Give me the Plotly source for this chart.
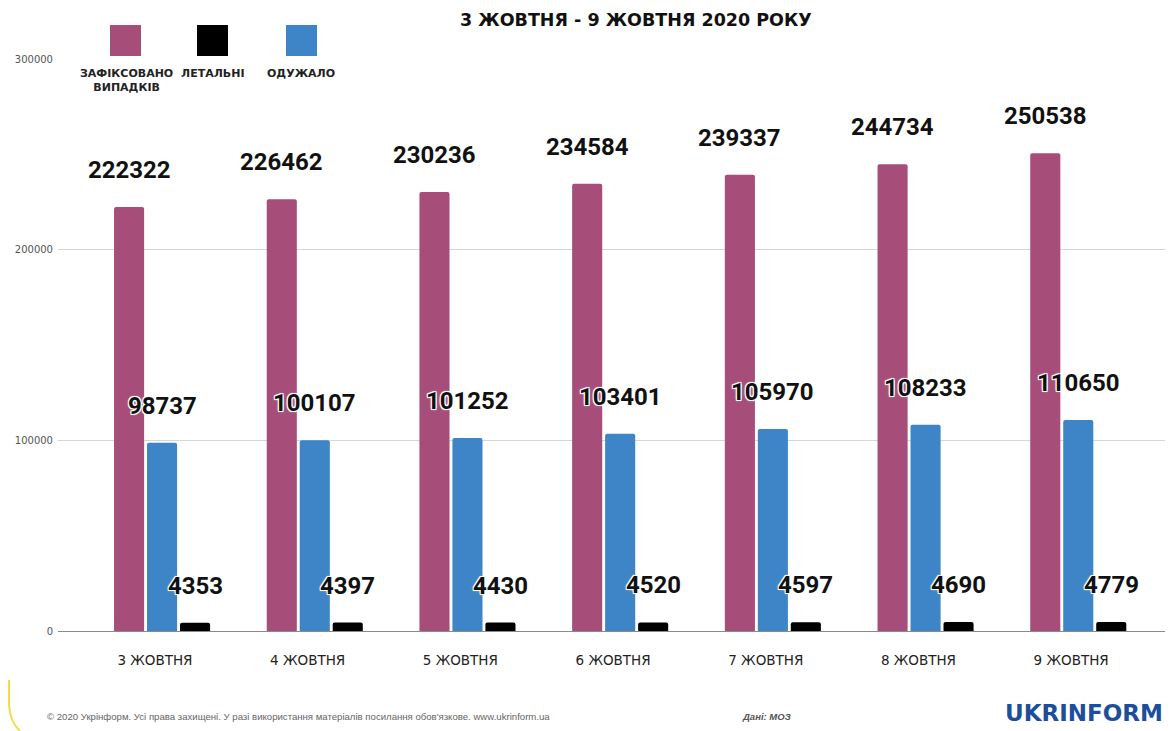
import plotly.graph_objects as go

# ---------------- data ----------------
dates = ["3 ЖОВТНЯ", "4 ЖОВТНЯ", "5 ЖОВТНЯ", "6 ЖОВТНЯ", "7 ЖОВТНЯ", "8 ЖОВТНЯ", "9 ЖОВТНЯ"]
confirmed = [222322, 226462, 230236, 234584, 239337, 244734, 250538]
deaths = [4353, 4397, 4430, 4520, 4597, 4690, 4779]
recovered = [98737, 100107, 101252, 103401, 105970, 108233, 110650]
series_names = ["ЗАФІКСОВАНО<br>ВИПАДКІВ", "ЛЕТАЛЬНІ", "ОДУЖАЛО"]
y_ticks = [0, 100000, 200000, 300000]
title_text = "3 ЖОВТНЯ - 9 ЖОВТНЯ 2020 РОКУ"
footer_text = "© 2020 Укрінформ. Усі права захищені. У разі використання матеріалів посилання обов'язкове. www.ukrinform.ua"
source_text = "Дані: МОЗ"
brand_text = "UKRINFORM"

# ---------------- styles ----------------
C_MAG = "#A64D79"
C_BLK = "#000000"
C_BLU = "#3D85C6"
W = 0.197
OFFS = {"conf": -0.268, "rec": -0.052, "dead": 0.164}

# page body has an 8px margin: figure is placed at (8, 8) in the window
SHIFT = 8
W_PX, H_PX = 1173 - SHIFT, 731 - SHIFT
L, R, T = 58 - SHIFT, 0, 59 - SHIFT
PLOT_BOTTOM = 631 - SHIFT
B = H_PX - PLOT_BOTTOM
PW = W_PX - L - R
PH = H_PX - T - B


def px(x):
    """reference window x -> paper x"""
    return (x - SHIFT - L) / PW


def py(y):
    """reference window y -> paper y"""
    return (PLOT_BOTTOM - (y - SHIFT)) / PH


xs = list(range(len(dates)))
fig = go.Figure()

series = [
    ("conf", confirmed, C_MAG, series_names[0]),
    ("dead", deaths, C_BLK, series_names[1]),
    ("rec", recovered, C_BLU, series_names[2]),
]
for key, vals, col, name in series:
    fig.add_trace(go.Bar(
        x=xs, y=vals, width=W, offset=OFFS[key],
        marker=dict(color=col, line=dict(width=0)),
        name=name.replace("<br>", " "), showlegend=False,
    ))

annotations = []
shadow = "-1px -1px 0 #fff, 1px -1px 0 #fff, -1px 1px 0 #fff, 1px 1px 0 #fff, 0 0 3px #fff"
for key, vals, col, name in series:
    for i, v in zip(xs, vals):
        annotations.append(dict(
            x=i + OFFS[key] + W / 2, y=v, xref="x", yref="y",
            text=str(v), showarrow=False, yanchor="middle", yshift=37,
            font=dict(family="Roboto", size=24, color="#111", weight="bold", shadow=shadow),
        ))

# title
annotations.append(dict(
    x=px(636), y=py(20), xref="paper", yref="paper", text=f"<b>{title_text}</b>",
    showarrow=False, xanchor="center", yanchor="middle",
    font=dict(family="DejaVu Sans", size=17.5, color="#111"),
))

# legend
shapes = []
legend_items = [(110, C_MAG, series_names[0], 126), (197, C_BLK, series_names[1], 213), (286, C_BLU, series_names[2], 301)]
for x0, col, name, cx in legend_items:
    shapes.append(dict(type="rect", xref="paper", yref="paper",
                       x0=px(x0), x1=px(x0 + 31), y0=py(56), y1=py(25),
                       fillcolor=col, line=dict(width=0), layer="above"))
    annotations.append(dict(
        x=px(cx), y=py(65), xref="paper", yref="paper", text=f"<b>{name}</b>",
        showarrow=False, xanchor="center", yanchor="top", align="center",
        font=dict(family="DejaVu Sans", size=11, color="#222"),
    ))

# footer
annotations.append(dict(
    x=px(45), y=py(716), xref="paper", yref="paper", text=footer_text,
    showarrow=False, xanchor="left", yanchor="middle",
    font=dict(family="Liberation Sans", size=9.6, color="#666"),
))
annotations.append(dict(
    x=px(740), y=py(716), xref="paper", yref="paper", text=f"<b><i>{source_text}</i></b>",
    showarrow=False, xanchor="left", yanchor="middle",
    font=dict(family="Liberation Sans", size=9.5, color="#555"),
))
annotations.append(dict(
    x=px(1165), y=py(713), xref="paper", yref="paper", text=f"<b>{brand_text}</b>",
    showarrow=False, xanchor="right", yanchor="middle",
    font=dict(family="DejaVu Sans", size=23, color="#1d4e9b"),
))

# decorative yellow corner
shapes.append(dict(type="path", xref="paper", yref="paper",
                   path=f"M {px(9)},{py(680)} L {px(9)},{py(705)} Q {px(10)},{py(722)} {px(20)},{py(731)}",
                   line=dict(color="#f3dc4a", width=2), layer="above"))

fig.update_layout(
    width=W_PX, height=H_PX,
    margin=dict(l=L, r=R, t=T, b=B, pad=0),
    paper_bgcolor="white", plot_bgcolor="white",
    barmode="overlay", barcornerradius=2,
    showlegend=False,
    annotations=annotations, shapes=shapes,
    xaxis=dict(
        tickmode="array", tickvals=xs, ticktext=dates,
        range=[-0.635, -0.635 + PW / 152.7],
        showgrid=False, zeroline=False, showline=False, ticks="",
        tickfont=dict(family="DejaVu Sans", size=13.5, color="#222"),
        ticklabelstandoff=19,
    ),
    yaxis=dict(
        tickmode="array", tickvals=y_ticks, ticktext=[str(t) for t in y_ticks],
        range=[0, 300000],
        showgrid=True, gridcolor="#d6d6d6", gridwidth=1,
        zeroline=True, zerolinecolor="#8a8a8a", zerolinewidth=1,
        showline=False, ticks="",
        tickfont=dict(family="DejaVu Sans", size=10, color="#555"),
        ticklabelstandoff=4,
    ),
)

fig.write_html("out.html")
